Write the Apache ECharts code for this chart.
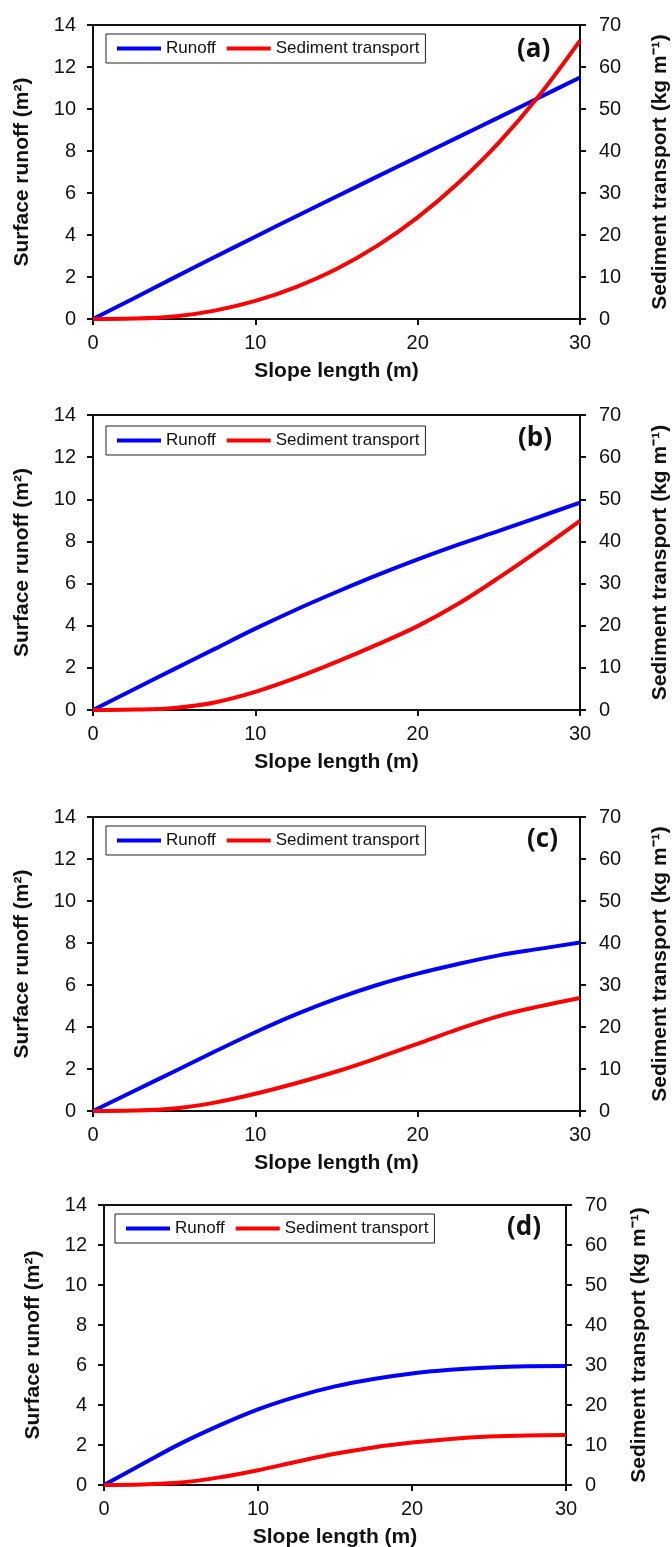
<!DOCTYPE html>
<html>
<head>
<meta charset="utf-8">
<title>Runoff and sediment transport vs slope length</title>
<script src="https://cdn.jsdelivr.net/npm/echarts@6/dist/echarts.min.js"></script>
<style>
  html, body { margin: 0; padding: 0; background: #fff; }
  #chart { width: 672px; height: 1547px; }
</style>
</head>
<body>
<div id="chart"></div>
<script>
// slope length (m), same x points for every panel
const slopeLength = [0, 2.5, 5, 7.5, 10, 12.5, 15, 17.5, 20, 22.5, 25, 27.5, 30];

// surface runoff (m2), left axis
const runoffA = [0, 0.98, 1.97, 2.95, 3.92, 4.88, 5.83, 6.78, 7.72, 8.66, 9.6, 10.55, 11.5];
const runoffB = [0, 0.97, 1.94, 2.9, 3.86, 4.76, 5.6, 6.4, 7.15, 7.85, 8.5, 9.17, 9.84];
const runoffC = [0, 0.94, 1.88, 2.83, 3.75, 4.6, 5.35, 6.0, 6.54, 7.0, 7.41, 7.72, 8.02];
const runoffD = [0, 1.05, 2.08, 2.98, 3.78, 4.42, 4.93, 5.3, 5.58, 5.76, 5.88, 5.94, 5.95];

// sediment transport (kg m-1), right axis
const sedimentA = [0, 0.1, 0.6, 2.0, 4.3, 7.6, 11.9, 17.4, 24.2, 32.4, 42.0, 53.3, 66.3];
const sedimentB = [0, 0.1, 0.5, 1.8, 4.3, 7.6, 11.4, 15.5, 19.9, 25.2, 31.4, 38.0, 44.9];
const sedimentC = [0, 0.1, 0.6, 2.0, 4.1, 6.6, 9.4, 12.6, 16.0, 19.5, 22.6, 24.9, 26.9];
const sedimentD = [0, 0.1, 0.6, 1.9, 3.7, 5.8, 7.8, 9.4, 10.6, 11.5, 12.1, 12.4, 12.5];

const panelLabels = ['(a)', '(b)', '(c)', '(d)'];
const seriesNames = ['Runoff', 'Sediment transport'];

const runoffs = [runoffA, runoffB, runoffC, runoffD];
const sediments = [sedimentA, sedimentB, sedimentC, sedimentD];

// layout of each panel (px)
const layout = [
  { grid: { left: 93, top: 25, width: 487, height: 294 }, legend: { left: 106, top: 34 }, tag: { left: 517, top: 37 } },
  { grid: { left: 93, top: 415, width: 487, height: 295 }, legend: { left: 106, top: 426 }, tag: { left: 518, top: 426 } },
  { grid: { left: 93, top: 817, width: 487, height: 294 }, legend: { left: 106, top: 826 }, tag: { left: 527, top: 827 } },
  { grid: { left: 104, top: 1205, width: 462, height: 280 }, legend: { left: 115, top: 1214 }, tag: { left: 507, top: 1215 } }
];

const font = 'Liberation Sans, Arial, sans-serif';
const ink = '#111';

const axisLine = { show: true, lineStyle: { color: ink, width: 2 } };
const axisTick = { show: true, inside: false, length: 6, lineStyle: { color: ink, width: 2 } };
const tickLabel = { color: ink, fontSize: 20, fontFamily: font };
const titleText = { color: ink, fontSize: 21, fontWeight: 'bold', fontFamily: font };

const pairs = (xs, ys) => xs.map((x, i) => [x, ys[i]]);

const option = {
  animation: false,
  backgroundColor: '#fff',
  grid: [],
  xAxis: [],
  yAxis: [],
  legend: [],
  title: [],
  series: []
};

layout.forEach((p, i) => {
  // keep the plot box fixed, labels may reach the page edge
  option.grid.push(Object.assign({
    show: true, borderColor: ink, borderWidth: 2,
    containLabel: false, outerBoundsMode: 'none'
  }, p.grid));

  option.xAxis.push({
    type: 'value', gridIndex: i, min: 0, max: 30, interval: 10,
    name: 'Slope length (m)', nameLocation: 'middle', nameGap: 42,
    nameTextStyle: titleText,
    axisLine: axisLine, axisTick: axisTick,
    axisLabel: Object.assign({}, tickLabel, { margin: 14 }),
    splitLine: { show: false }
  });

  // left: runoff
  option.yAxis.push({
    type: 'value', gridIndex: i, position: 'left', min: 0, max: 14, interval: 2,
    name: 'Surface runoff (m²)', nameLocation: 'middle', nameRotate: 90, nameGap: 60,
    nameTextStyle: titleText,
    axisLine: axisLine, axisTick: axisTick,
    axisLabel: Object.assign({}, tickLabel, { margin: 17 }),
    splitLine: { show: false }
  });
  // right: sediment
  option.yAxis.push({
    type: 'value', gridIndex: i, position: 'right', min: 0, max: 70, interval: 10,
    name: 'Sediment transport (kg m⁻¹)', nameLocation: 'middle', nameRotate: 90, nameGap: i === 3 ? 63 : 70,
    nameTextStyle: titleText,
    axisLine: axisLine, axisTick: axisTick,
    axisLabel: Object.assign({}, tickLabel, { margin: 19 }),
    splitLine: { show: false }
  });

  option.legend.push({
    left: p.legend.left, top: p.legend.top,
    orient: 'horizontal',
    data: seriesNames,
    icon: 'rect', itemWidth: 44, itemHeight: 4, itemGap: 11, itemTextGap: 5,
    padding: [6, 6, 6, 11],
    borderColor: '#222', borderWidth: 1,
    selectedMode: false,
    textStyle: { color: ink, fontSize: 17, fontFamily: font }
  });

  option.title.push({
    text: panelLabels[i], left: p.tag.left, top: p.tag.top, padding: 0,
    textStyle: { color: ink, fontSize: 26, fontWeight: 'bold', fontFamily: 'Open Sans, Liberation Sans, sans-serif' }
  });

  option.series.push({
    name: seriesNames[0], type: 'line', xAxisIndex: i, yAxisIndex: i * 2,
    data: pairs(slopeLength, runoffs[i]),
    smooth: 0.35, showSymbol: false, symbol: 'none',
    color: '#0000ff', lineStyle: { color: '#0000ff', width: 4 }
  });
  option.series.push({
    name: seriesNames[1], type: 'line', xAxisIndex: i, yAxisIndex: i * 2 + 1,
    data: pairs(slopeLength, sediments[i]),
    smooth: 0.35, showSymbol: false, symbol: 'none',
    color: '#ff0000', lineStyle: { color: '#ff0000', width: 4 }
  });
});

const chart = echarts.init(document.getElementById('chart'), null, { renderer: 'canvas' });
chart.setOption(option);
</script>
</body>
</html>
